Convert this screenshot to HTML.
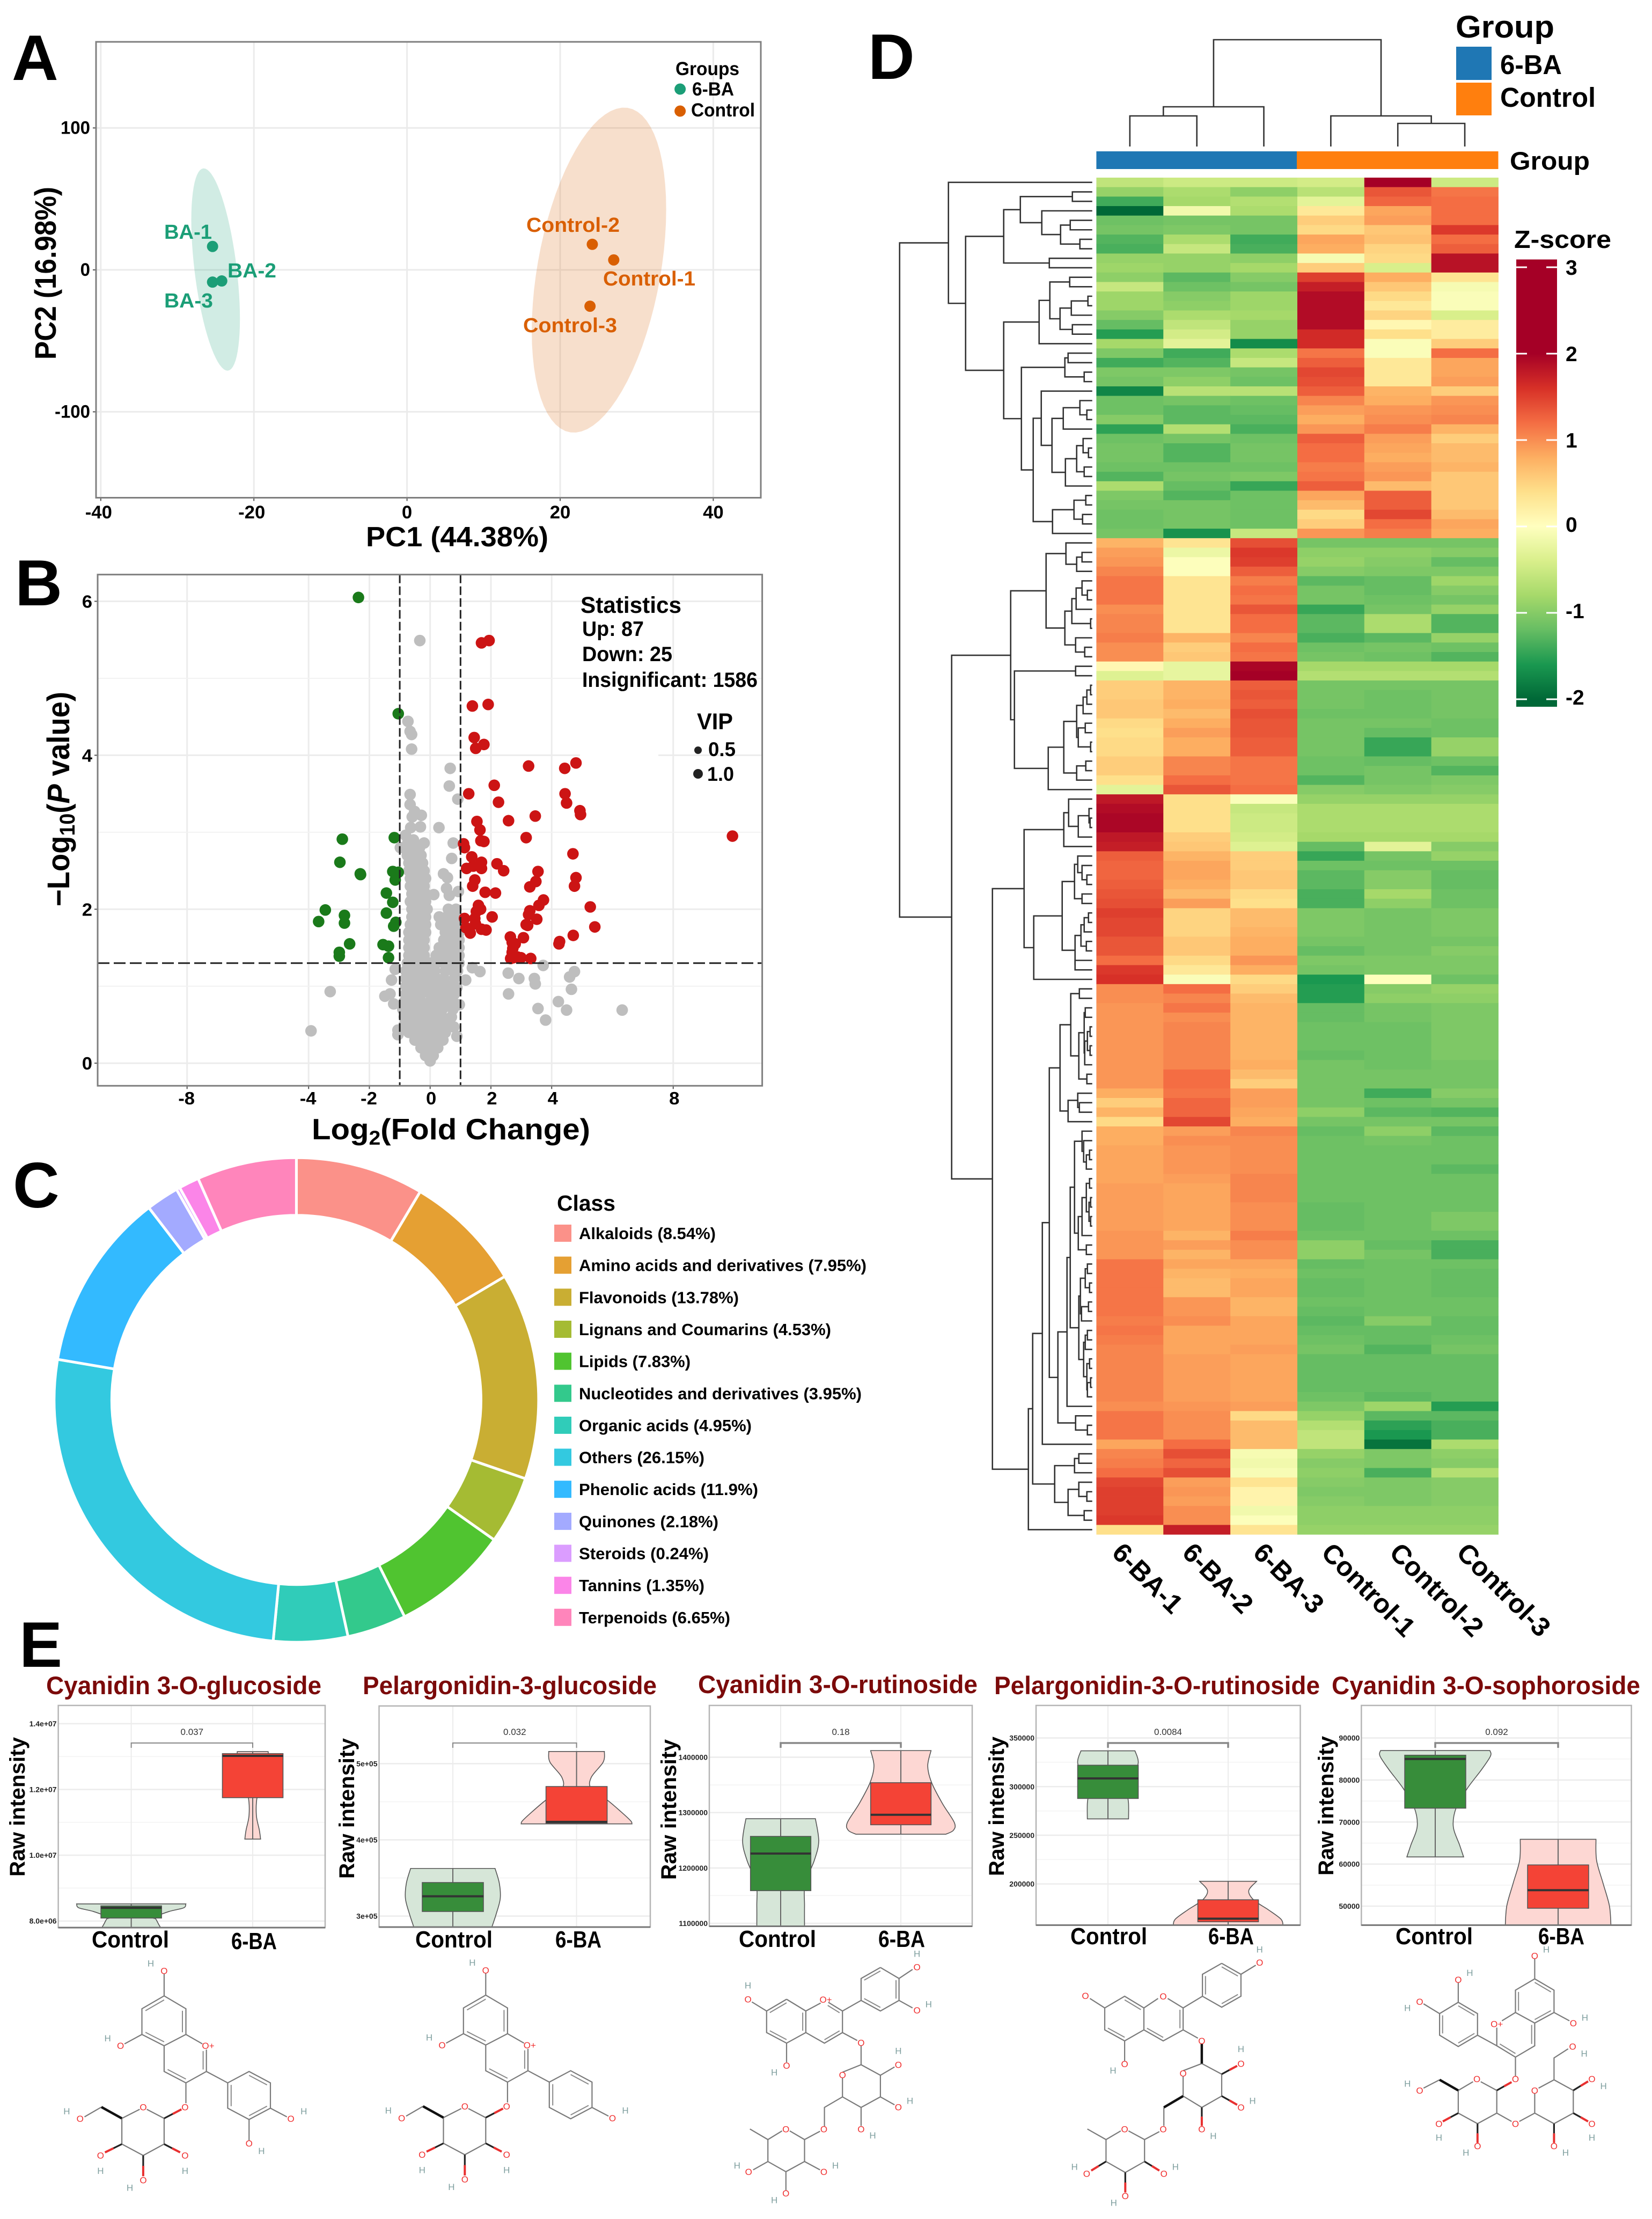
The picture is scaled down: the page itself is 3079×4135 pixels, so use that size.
<!DOCTYPE html>
<html lang="en">
<head>
<meta charset="utf-8">
<title>Metabolomics figure</title>
<style>
html,body{margin:0;padding:0;background:#fff;}
svg{display:block;}
text{font-family:"Liberation Sans",sans-serif;}
.b{font-weight:bold;fill:#000;}
</style>
</head>
<body>
<svg id="figure" xmlns="http://www.w3.org/2000/svg" width="3079" height="4135" viewBox="0 0 3079 4135">
<rect x="0" y="0" width="3079" height="4135" fill="#fff"/>

<g id="panelA"></g>
<g>
  <text class="b" x="22" y="149" font-size="120">A</text>
  <text class="b" x="682" y="1018" font-size="52" textLength="340" lengthAdjust="spacingAndGlyphs">PC1 (44.38%)</text>
  <text class="b" x="104" y="670" font-size="56" textLength="322" lengthAdjust="spacingAndGlyphs" transform="rotate(-90 104 670)">PC2 (16.98%)</text>
  <text class="b" x="1259" y="140" font-size="35" textLength="119" lengthAdjust="spacingAndGlyphs">Groups</text>
  <circle cx="1267.6" cy="166" r="10.5" fill="#1b9e77"/>
  <text class="b" x="1290" y="178" font-size="35" textLength="78" lengthAdjust="spacingAndGlyphs">6-BA</text>
  <circle cx="1267.6" cy="207" r="10.5" fill="#d95f02"/>
  <text class="b" x="1288" y="217" font-size="35" textLength="119" lengthAdjust="spacingAndGlyphs">Control</text>
  <g font-weight="bold" font-size="38">
    <text fill="#1b9e77" x="306" y="445" textLength="89" lengthAdjust="spacingAndGlyphs">BA-1</text>
    <text fill="#1b9e77" x="424" y="517" textLength="91" lengthAdjust="spacingAndGlyphs">BA-2</text>
    <text fill="#1b9e77" x="306" y="573" textLength="91" lengthAdjust="spacingAndGlyphs">BA-3</text>
    <text fill="#d95f02" x="981" y="432" textLength="174" lengthAdjust="spacingAndGlyphs">Control-2</text>
    <text fill="#d95f02" x="1124" y="532" textLength="172" lengthAdjust="spacingAndGlyphs">Control-1</text>
    <text fill="#d95f02" x="975" y="619" textLength="175" lengthAdjust="spacingAndGlyphs">Control-3</text>
  </g>
</g>

<g id="panelB"></g>
<g>
  <text class="b" x="28" y="1128" font-size="122">B</text>
  <text class="b" x="581" y="2123" font-size="55" textLength="519" lengthAdjust="spacingAndGlyphs">Log<tspan font-size="37" dy="10">2</tspan><tspan dy="-10">(Fold Change)</tspan></text>
  <text class="b" x="129" y="1689" font-size="58" textLength="400" lengthAdjust="spacingAndGlyphs" transform="rotate(-90 129 1689)">&#8722;Log<tspan font-size="40" dy="10">10</tspan><tspan dy="-10">(</tspan><tspan font-style="italic">P</tspan> value)</text>
  <text class="b" x="1082" y="1142" font-size="43" textLength="188" lengthAdjust="spacingAndGlyphs">Statistics</text>
  <text class="b" x="1085" y="1185" font-size="39" textLength="115" lengthAdjust="spacingAndGlyphs">Up: 87</text>
  <text class="b" x="1085" y="1232" font-size="39" textLength="168" lengthAdjust="spacingAndGlyphs">Down: 25</text>
  <text class="b" x="1085" y="1280" font-size="39" textLength="327" lengthAdjust="spacingAndGlyphs">Insignificant: 1586</text>
  <text class="b" x="1299" y="1359" font-size="43" textLength="67" lengthAdjust="spacingAndGlyphs">VIP</text>
  <circle cx="1301" cy="1398" r="7" fill="#222"/>
  <text class="b" x="1320" y="1409" font-size="37" textLength="51" lengthAdjust="spacingAndGlyphs">0.5</text>
  <circle cx="1301" cy="1442" r="9" fill="#222"/>
  <text class="b" x="1318" y="1455" font-size="37" textLength="50" lengthAdjust="spacingAndGlyphs">1.0</text>
</g>

<g id="panelC"></g>
<g>
  <text class="b" x="24" y="2250" font-size="120">C</text>
  <text class="b" x="1038" y="2256" font-size="41" textLength="109" lengthAdjust="spacingAndGlyphs">Class</text>
  <g font-weight="bold" font-size="31">
    <rect x="1033" y="2282" width="32" height="32" fill="#fb9189"/>
    <text x="1079" y="2309" textLength="255" lengthAdjust="spacingAndGlyphs">Alkaloids (8.54%)</text>
    <rect x="1033" y="2341.6" width="32" height="32" fill="#e5a033"/>
    <text x="1079" y="2368.6" textLength="536" lengthAdjust="spacingAndGlyphs">Amino acids and derivatives (7.95%)</text>
    <rect x="1033" y="2401.3" width="32" height="32" fill="#c9ae33"/>
    <text x="1079" y="2428.3" textLength="298" lengthAdjust="spacingAndGlyphs">Flavonoids (13.78%)</text>
    <rect x="1033" y="2461" width="32" height="32" fill="#a5bb33"/>
    <text x="1079" y="2488" textLength="470" lengthAdjust="spacingAndGlyphs">Lignans and Coumarins (4.53%)</text>
    <rect x="1033" y="2520.6" width="32" height="32" fill="#50c430"/>
    <text x="1079" y="2547.6" textLength="208" lengthAdjust="spacingAndGlyphs">Lipids (7.83%)</text>
    <rect x="1033" y="2580.3" width="32" height="32" fill="#33c98c"/>
    <text x="1079" y="2607.3" textLength="527" lengthAdjust="spacingAndGlyphs">Nucleotides and derivatives (3.95%)</text>
    <rect x="1033" y="2639.9" width="32" height="32" fill="#30ccb9"/>
    <text x="1079" y="2666.9" textLength="322" lengthAdjust="spacingAndGlyphs">Organic acids (4.95%)</text>
    <rect x="1033" y="2699.5" width="32" height="32" fill="#33c9e0"/>
    <text x="1079" y="2726.5" textLength="234" lengthAdjust="spacingAndGlyphs">Others (26.15%)</text>
    <rect x="1033" y="2759.2" width="32" height="32" fill="#33baff"/>
    <text x="1079" y="2786.2" textLength="334" lengthAdjust="spacingAndGlyphs">Phenolic acids (11.9%)</text>
    <rect x="1033" y="2818.9" width="32" height="32" fill="#a3aaff"/>
    <text x="1079" y="2845.9" textLength="260" lengthAdjust="spacingAndGlyphs">Quinones (2.18%)</text>
    <rect x="1033" y="2878.5" width="32" height="32" fill="#db9dff"/>
    <text x="1079" y="2905.5" textLength="242" lengthAdjust="spacingAndGlyphs">Steroids (0.24%)</text>
    <rect x="1033" y="2938.2" width="32" height="32" fill="#fb85e8"/>
    <text x="1079" y="2965.2" textLength="234" lengthAdjust="spacingAndGlyphs">Tannins (1.35%)</text>
    <rect x="1033" y="2997.8" width="32" height="32" fill="#ff85bb"/>
    <text x="1079" y="3024.8" textLength="282" lengthAdjust="spacingAndGlyphs">Terpenoids (6.65%)</text>
  </g>
</g>

<g id="panelD"></g>
<g>
  <text class="b" x="1618" y="147" font-size="120">D</text>
  <text class="b" x="2713" y="70" font-size="58" textLength="184" lengthAdjust="spacingAndGlyphs">Group</text>
  <rect x="2714" y="87" width="66" height="62" fill="#1f77b4"/>
  <rect x="2714" y="154" width="66" height="61" fill="#ff7f0e"/>
  <text class="b" x="2796" y="138" font-size="51" textLength="115" lengthAdjust="spacingAndGlyphs">6-BA</text>
  <text class="b" x="2796" y="199" font-size="51" textLength="178" lengthAdjust="spacingAndGlyphs">Control</text>
  <rect x="2043.4" y="282" width="374.5" height="33" fill="#1f77b4"/>
  <rect x="2417" y="282" width="375.5" height="33" fill="#ff7f0e"/>
  <text class="b" x="2814" y="316" font-size="47" textLength="149" lengthAdjust="spacingAndGlyphs">Group</text>
  <text class="b" x="2822" y="462" font-size="46" textLength="181" lengthAdjust="spacingAndGlyphs">Z-score</text>
  <g font-weight="bold" font-size="50">
    <text x="2070" y="2896" transform="rotate(45 2070 2896)">6-BA-1</text>
    <text x="2201" y="2896" transform="rotate(45 2201 2896)">6-BA-2</text>
    <text x="2333" y="2896" transform="rotate(45 2333 2896)">6-BA-3</text>
    <text x="2460" y="2896" transform="rotate(45 2460 2896)">Control-1</text>
    <text x="2587" y="2896" transform="rotate(45 2587 2896)">Control-2</text>
    <text x="2712" y="2896" transform="rotate(45 2712 2896)">Control-3</text>
  </g>
</g>

<g id="panelE"></g>
<g>
  <text class="b" x="36" y="3106" font-size="120">E</text>
  <g font-weight="bold" font-size="47" fill="#7b0a0a">
    <text x="86" y="3157" textLength="513" lengthAdjust="spacingAndGlyphs">Cyanidin 3-O-glucoside</text>
    <text x="676" y="3157" textLength="548" lengthAdjust="spacingAndGlyphs">Pelargonidin-3-glucoside</text>
    <text x="1301" y="3155" textLength="521" lengthAdjust="spacingAndGlyphs">Cyanidin 3-O-rutinoside</text>
    <text x="1853" y="3157" textLength="607" lengthAdjust="spacingAndGlyphs">Pelargonidin-3-O-rutinoside</text>
    <text x="2482" y="3157" textLength="575" lengthAdjust="spacingAndGlyphs">Cyanidin 3-O-sophoroside</text>
  </g>
  <g font-weight="bold" font-size="40">
    <text x="46" y="3497" textLength="260" lengthAdjust="spacingAndGlyphs" transform="rotate(-90 46 3497)">Raw intensity</text>
    <text x="660" y="3501" textLength="262" lengthAdjust="spacingAndGlyphs" transform="rotate(-90 660 3501)">Raw intensity</text>
    <text x="1260" y="3503" textLength="262" lengthAdjust="spacingAndGlyphs" transform="rotate(-90 1260 3503)">Raw intensity</text>
    <text x="1871" y="3496" textLength="260" lengthAdjust="spacingAndGlyphs" transform="rotate(-90 1871 3496)">Raw intensity</text>
    <text x="2485" y="3495" textLength="260" lengthAdjust="spacingAndGlyphs" transform="rotate(-90 2485 3495)">Raw intensity</text>
  </g>
  <g font-weight="bold" font-size="44">
    <text x="171" y="3629" textLength="144" lengthAdjust="spacingAndGlyphs">Control</text>
    <text x="431" y="3632" textLength="85" lengthAdjust="spacingAndGlyphs">6-BA</text>
    <text x="774" y="3629" textLength="144" lengthAdjust="spacingAndGlyphs">Control</text>
    <text x="1035" y="3629" textLength="86" lengthAdjust="spacingAndGlyphs">6-BA</text>
    <text x="1377" y="3628" textLength="144" lengthAdjust="spacingAndGlyphs">Control</text>
    <text x="1637" y="3628" textLength="87" lengthAdjust="spacingAndGlyphs">6-BA</text>
    <text x="1995" y="3623" textLength="143" lengthAdjust="spacingAndGlyphs">Control</text>
    <text x="2252" y="3623" textLength="85" lengthAdjust="spacingAndGlyphs">6-BA</text>
    <text x="2601" y="3623" textLength="144" lengthAdjust="spacingAndGlyphs">Control</text>
    <text x="2867" y="3623" textLength="86" lengthAdjust="spacingAndGlyphs">6-BA</text>
  </g>
</g>
</svg>

<script>
/* ---------- Panel A: PCA data ---------- */
const pcaXTicks=[-40,-20,0,20,40];
const pcaYTicks=[-100,0,100];
const pcaPc1=[-25.4,-24.2,-25.4,27,24.2,23.9];
const pcaPc2=[16.5,-7.8,-8.6,7,18,-25.6];
const pcaGroupOf=['6-BA','6-BA','6-BA','Control','Control','Control'];
const pcaEllipseGroup=['6-BA','Control'];
const pcaEllipseMeanX=[-25,25.07];
const pcaEllipseMeanY=[0.25,-0.15];
const pcaEllipseSdX=[3.175,8.78];
const pcaEllipseSdY=[71.25,114.5];
const pcaEllipseCorr=[-0.488,0.374];

/* ---------- Panel B: volcano data ---------- */
const volcanoXTicks=[-8,-4,-2,0,2,4,8];
const volcanoYTicks=[0,2,4,6];
const volcanoYMinor=[1,3,5];
const volcanoRed=[[1.94,5.49],[1.69,5.46],[1.39,4.64],[1.91,4.66],[1.45,4.23],[1.77,4.14],[1.5,4.09],[3.24,3.86],[4.43,3.83],[4.8,3.9],[2.11,3.61],[1.27,3.5],[4.44,3.5],[2.25,3.39],[4.49,3.38],[4.93,3.28],[4.95,3.23],[3.46,3.21],[2.58,3.15],[1.54,3.14],[1.64,3.03],[3.16,2.93],[9.95,2.95],[1.67,2.89],[1.77,2.88],[1.1,2.85],[1.13,2.8],[4.7,2.72],[1.37,2.68],[1.69,2.61],[1.42,2.56],[2.2,2.59],[1.2,2.53],[1.69,2.53],[2.42,2.5],[3.55,2.49],[1.47,2.38],[4.8,2.41],[3.48,2.36],[3.28,2.29],[4.75,2.3],[1.4,2.3],[1.81,2.22],[2.15,2.21],[3.73,2.12],[3.58,2.05],[5.27,2.03],[1.59,2.05],[1.66,2],[1.52,1.97],[3.28,1.98],[3.24,1.93],[2.04,1.9],[1.13,1.88],[1.47,1.88],[3.51,1.87],[1.49,1.81],[3.21,1.79],[3.16,1.8],[5.42,1.77],[1.18,1.76],[1.69,1.74],[1.84,1.73],[1.32,1.69],[4.71,1.66],[2.64,1.64],[3.07,1.63],[4.26,1.58],[4.24,1.55],[2.7,1.57],[2.8,1.55],[2.72,1.49],[2.7,1.44],[2.74,1.37],[2.65,1.36],[2.99,1.37],[3.31,1.36],[2.87,1.38]];
const volcanoGreen=[[-2.36,6.05],[-1.05,4.54],[-2.89,2.91],[-1.18,2.93],[-2.97,2.61],[-2.3,2.46],[-1.23,2.49],[-1.05,2.48],[-1.15,2.38],[-1.44,2.21],[-1.23,2.09],[-3.45,1.99],[-3.67,1.84],[-2.82,1.92],[-2.82,1.82],[-1.44,1.95],[-1.13,1.83],[-1.2,1.78],[-2.65,1.55],[-1.55,1.54],[-1.37,1.52],[-2.99,1.44],[-2.99,1.39],[-1.37,1.37],[-2.29,2.45]];
const volcanoGrayOutliers=[[-0.34,5.49],[-0.73,4.44],[-0.66,4.31],[-0.61,4.27],[-0.61,4.08],[0.66,3.83],[0.63,3.6],[-0.66,3.49],[-0.66,3.36],[0.91,3.43],[-0.51,3.27],[-0.29,3.22],[-0.59,3.2],[-0.64,3.06],[-0.32,3.07],[0.29,3.06],[-0.81,2.96],[-0.73,2.87],[-0.2,2.86],[0.76,2.86],[-0.98,2.8],[0.71,2.66],[0.44,2.46],[0.57,2.41],[0.54,2.27],[0.12,2.19],[0.63,2.18],[0.93,2.23],[1.39,1.24],[1.64,1.19],[2.57,1.17],[2.92,1.1],[3.43,1.1],[3.46,1.03],[3.72,1.27],[4.75,1.19],[4.59,1.12],[4.65,0.96],[2.58,0.9],[4.22,0.8],[3.55,0.71],[4.49,0.69],[3.8,0.56],[6.32,0.69],[-3.92,0.42],[-3.29,0.93],[1.17,1.08],[-1.49,0.87],[-1.32,0.9],[-1.2,0.77],[-1.06,0.43],[-1.06,0.37],[0.78,0.47],[0.88,0.35],[0.96,0.76],[0.88,0.98],[-1.27,1.08],[-1.15,1.22]];
const volcanoGrayRowY=[0.03,0.1,0.2,0.3,0.4,0.5,0.6,0.7,0.8,0.9,1,1.1,1.2,1.3,1.4,1.5,1.6,1.7,1.8,1.9,2,2.1,2.2,2.3,2.4,2.5,2.6,2.7,2.8,2.9];
const volcanoGrayRowX=[[0],[-.15,.1],[-.3,-.1,.1,.25],[-.5,-.3,-.1,.1,.3,.42],[-.7,-.45,-.2,0,.2,.4,.5],[-.85,-.55,-.3,-.05,.2,.4,.6],[-.85,-.6,-.35,-.1,.15,.4,.7],[-.9,-.6,-.35,-.1,.15,.4,.75],[-.85,-.6,-.3,0,.3,.55,.75],[-.8,-.55,-.3,0,.25,.5,.8],[-.8,-.55,-.3,-.05,.2,.45,.7],[-.8,-.55,-.3,-.05,.2,.45,.8],[-.8,-.55,-.3,-.05,.15,.5,.75,.9],[-.75,-.5,-.25,0,.2,.45,.7,.95],[-.7,-.45,-.2,.2,.4,.65,.95],[-.7,-.45,-.2,.3,.5,.75,.95],[-.7,-.45,-.2,.45,.7,.95],[-.7,-.45,-.15,.5,.75,.95],[-.65,-.4,-.15,.35,.6,.85],[-.6,-.35,-.15,.3,.55,.85],[-.6,-.35,-.1,.6,.85],[-.65,-.4,-.15],[-.6,-.35,-.15],[-.65,-.4,-.2],[-.65,-.4,-.15],[-.7,-.45,-.2],[-.7,-.45,-.25],[-.75,-.5,-.3],[-.75,-.5,-.35],[-.7,-.55]];
const volcanoFcCut=[-1,1];
const volcanoPCut=1.3;

/* ---------- Panel C: donut data ---------- */
const donutClasses=['alkaloids','amino-acids','flavonoids','lignans','lipids','nucleotides','organic-acids','others','phenolic-acids','quinones','steroids','tannins','terpenoids'];
const donutValues=[8.54,7.95,13.78,4.53,7.83,3.95,4.95,26.15,11.9,2.18,0.24,1.35,6.65];
const donutColors=['#fb9189','#e5a033','#c9ae33','#a5bb33','#50c430','#33c98c','#30ccb9','#33c9e0','#33baff','#a3aaff','#db9dff','#fb85e8','#ff85bb'];

/* ---------- Panel D: heatmap data (z-scores; columns 6-BA-1..3, Control-1..3) ---------- */
const heatColumns=['6-BA-1','6-BA-2','6-BA-3','Control-1','Control-2','Control-3'];
const heatColorbarTicks=[3,2,1,0,-1,-2];
const heatRows=[
[-.6,-.5,-.5,-.45,2.3,-.5],[-.9,-.75,-.95,-.65,1.35,1.15],[-1.4,-.8,-.7,-.3,1.25,1.2],[-2,-.15,-.75,.3,.85,1.2],[-1.15,-1.1,-1.1,.55,.9,1.2],[-1.1,-1.05,-1.1,.45,.6,1.55],[-1.3,-.75,-1.4,.85,.65,1.2],[-1.35,-.55,-1.35,.8,.5,1.3],[-.9,-.9,-.95,-.1,.45,1.85],[-.85,-.9,-.8,.55,-.4,1.85],
[-.95,-1.25,-1,1.5,.8,.35],[-.55,-1.15,-1.1,1.75,.6,-.1],[-.85,-1,-.85,1.9,.45,-.05],[-.85,-.95,-.85,1.9,.3,-.05],[-1,-.75,-.8,1.9,.5,-.4],[-1.2,-.6,-.9,1.9,.1,.25],[-1.55,-.45,-.9,1.65,.4,.25],[-.8,-.3,-1.7,1.65,-.05,.55],[-1.05,-1.4,-.75,1.15,-.05,1.2],[-1.4,-1.3,-.55,1.3,.3,.85],
[-1.05,-1.05,-1.1,1.45,.3,.85],[-1.1,-.95,-1.15,1.4,.3,.9],[-1.75,-.65,-.65,1.3,.75,.55],[-1.15,-1.1,-1.15,1.05,.8,.95],[-1.15,-1.25,-1.2,.9,.95,1],[-1,-1.25,-1.25,.8,1,1.05],[-1.5,-.7,-1.35,.95,1.1,.75],[-1.15,-1.1,-1.15,1.3,.9,.55],[-1.1,-1.3,-1.1,1.2,.85,.7],[-1.1,-1.3,-1.1,1.2,.8,.7],
[-1.15,-1.15,-1.15,1.1,.9,.75],[-1.3,-1.1,-1.05,1.15,.95,.6],[-.75,-1.2,-1.45,1.3,.7,.6],[-1.05,-1.3,-1.15,.85,1.3,.6],[-1.1,-1.1,-1.15,.7,1.3,.6],[-1.15,-1.1,-1.15,.45,1.45,.7],[-1.15,-1.1,-1.15,.55,1.2,.85],[-1.1,-1.65,-.55,.95,1.1,.8],[.75,.35,1.4,-1.1,-1.1,-1.1],[.9,-.2,1.55,-.95,-.95,-1],
[.95,-.02,1.5,-.9,-1,-1.2],[1.05,-.02,1.3,-1,-1.05,-1.05],[1.15,.35,1.1,-1.25,-1.2,-.85],[1.15,.35,1.2,-1.1,-1.2,-1],[1.15,.35,1.15,-1.1,-1.15,-1.1],[1,.35,1.35,-1.45,-1.1,-.9],[1.05,.35,1.2,-1.25,-.75,-1.3],[1.05,.35,1.2,-1.25,-.75,-1.3],[1.1,.75,1.05,-1.35,-1.25,-.9],[1,.55,1.2,-1.15,-1.1,-1.15],
[1,.6,1.15,-1.1,-1.15,-1.3],[.1,-.25,1.95,-.8,-.8,-.8],[-.35,-.25,2.2,-.7,-.7,-.7],[.55,.75,1.3,-1.1,-1.1,-1.1],[.55,.75,1.35,-1.1,-1.15,-1.1],[.6,.8,1.3,-1.1,-1.15,-1.1],[.6,.7,1.4,-1.15,-1.15,-1.1],[.45,.8,1.35,-1.1,-1.1,-1.15],[.4,.9,1.35,-1.1,-1.2,-1.15],[.45,.8,1.3,-1.1,-1.45,-.9],
[.45,.8,1.3,-1.1,-1.45,-.9],[.55,1.05,1.15,-1.15,-1.2,-1.15],[.55,1.05,1.15,-1.15,-1.1,-1.3],[.4,1.2,1.15,-1.3,-1.1,-1.05],[-.3,1.35,1.2,-1,-1.05,-1],[1.8,.4,-.05,-.9,-.9,-.9],[1.9,.4,-.55,-.75,-.75,-.75],[1.95,.4,-.5,-.75,-.75,-.75],[1.95,.4,-.5,-.75,-.75,-.75],[1.8,.55,-.45,-.8,-.8,-.8],
[1.75,.6,-.35,-1.2,-.3,-1],[1.3,.75,.55,-1.45,-1.1,-.9],[1.25,.85,.55,-1.15,-1.15,-1.15],[1.25,.85,.6,-1.25,-1,-1.2],[1.3,.8,.6,-1.25,-1,-1.2],[1.35,.7,.45,-1.35,-.8,-1.15],[1.4,.9,.4,-1.35,-.95,-1.15],[1.5,.5,.7,-1.05,-1.1,-1.05],[1.45,.5,.7,-1.05,-1.1,-1.05],[1.45,.5,.75,-1.05,-1.1,-1.05],
[1.35,.6,.8,-1.1,-1.1,-1.1],[1.35,.6,.8,-1.2,-1.1,-1],[1.2,.45,.95,-1.05,-1.05,-1.05],[1.55,.3,.8,-1.1,-1.05,-1.05],[1.6,-.05,.45,-1.6,-.02,-1.15],[1,1.2,.55,-1.55,-1,-.9],[1,1.05,.7,-1.55,-.95,-.95],[.95,1.15,.75,-1.2,-1.1,-1.05],[.95,1,.75,-1.2,-1.1,-1.05],[.95,1.05,.75,-1.15,-1.15,-1.05],
[.95,1.05,.75,-1.15,-1.15,-1.05],[.95,1.05,.75,-1.15,-1.15,-1.05],[.95,1.05,.75,-1.2,-1.15,-1.05],[.95,1.05,.8,-1.1,-1.15,-1.1],[.95,1.2,.7,-1.1,-1.1,-1.1],[.95,1.2,.55,-1.1,-1.1,-1.1],[.8,1.15,.9,-1.1,-1.4,-1],[.55,1.25,.9,-1.1,-1.15,-1.1],[.75,1.25,.85,-.95,-1.25,-1.3],[.45,1.45,.8,-1.1,-1.1,-1.1],
[.8,.9,1.05,-1.2,-.95,-1.25],[.8,1,1,-1.15,-1.1,-1.15],[.85,.95,1,-1.15,-1.15,-1.15],[.85,.95,1,-1.15,-1.15,-1.15],[.85,.95,1,-1.15,-1.15,-1.25],[.85,.9,1.05,-1.15,-1.15,-1.15],[.9,.85,1.05,-1.15,-1.15,-1.15],[.9,.85,1.05,-1.15,-1.15,-1.15],[.9,.85,1,-1.2,-1.15,-1.15],[.9,.85,1,-1.2,-1.15,-1.05],
[.9,.85,1,-1.2,-1.15,-1.05],[.95,.75,1.1,-1.15,-1.15,-1.15],[.95,.9,1,-.95,-1.2,-1.35],[.95,.75,1,-.95,-1.1,-1.35],[1.15,.85,.85,-1.2,-1.15,-1.15],[1.15,.75,.8,-1.15,-1.15,-1.2],[1.15,.7,.85,-1.2,-1.15,-1.2],[1.15,.7,.85,-1.2,-1.15,-1.2],[1.15,.95,.75,-1.15,-1.15,-1.15],[1.15,.95,.75,-1.2,-1.15,-1.15],
[1.1,1,.85,-1.25,-1,-1.2],[1.15,.85,.85,-1.2,-1.2,-1.2],[1.1,.85,.85,-1.15,-1.2,-1.15],[1.05,.85,.9,-1.1,-1.3,-1.1],[1.05,.9,.85,-1.2,-1.2,-1.2],[1.05,.9,.85,-1.2,-1.2,-1.2],[1.05,.9,.85,-1.2,-1.2,-1.2],[1.05,.9,.85,-1.2,-1.2,-1.2],[1.05,.9,.85,-1.15,-1.25,-1.2],[1,.95,.9,-1.05,-.85,-1.55],
[1.15,1,.45,-.9,-1.25,-1.25],[1.15,1,.7,-.7,-1.5,-1.35],[1.15,1,.7,-.6,-1.6,-1.35],[.85,1.2,.7,-.6,-1.9,-.75],[1.05,1.4,-.1,-.9,-1.05,-.95],[1.1,1.25,-.15,-1,-1.05,-1],[1.2,1.4,-.08,-.95,-1.35,-.7],[1.45,.9,.35,-1,-1.05,-1],[1.5,.95,.15,-1.05,-1.05,-1],[1.5,.9,.15,-1,-1.05,-1],
[1.5,1,-.15,-.95,-.95,-.95],[1.55,1,-.03,-.95,-.95,-.95],[.4,1.75,.35,-.9,-.9,-.9]
];
/* colour scale: z-break -> colour */
const heatBreaks=[-2,-1.6,-1.2,-.8,-.4,0,.4,.8,1.2,1.6,2];
const heatStops=['#006837','#1a9850','#66bd63','#a6d96a','#d9ef8b','#ffffbf','#fee08b','#fdae61','#f46d43','#d73027','#a50026'];

/* dendrograms: [leftChild, rightChild, mergeDistance]; integers are leaf indices */
const colTree=[[[0,1,.57],2,.74],[3,[4,5,.43],.57],1.99];
const tC1=[[1,2,.37],[3,[[4,5,.41],[6,7,.23],.59],.94],1.34];
const tC=[tC1,[8,9,.80],1.65];
const tD1=[[[10,11,.42],[[[12,13,.08],14,.39],[15,16,.37],.60],.79],17,.99];
const tD2b=[[22,[[[23,[24,25,.10],.23],26,.54],[[[27,[28,29,.07],.17],[30,31,.15],.29],32,.50],.75],.95],[[[33,34,.12],[35,36,.18],.34],37,.74],1.10];
const tD2=[[[18,19,.45],[20,21,.15],.51],tD2b,1.32];
const tD=[tD1,tD2,1.65];
const tB=[tC,tD,2.36];
const tA=[0,tB,2.68];
const tF1=[[38,[[39,40,.19],41,.29],.49],[[[[42,[43,44,.09],.19],45,.30],[46,47,.03],.38],[48,[49,50,.14],.31],.51],.86];
const tJ1a=[[[[53,54,.03],55,.10],56,.17],[[57,58,.13],[59,60,.03],.26],.29];
const tJ=[[tJ1a,[[61,62,.12],63,.29],.53],64,.82];
const tF2=[[51,52,.31],tJ,1.45];
const tF=[tF1,tF2,1.52];
const tK1=[[65,[[66,[67,68,.04],.06],69,.26],.44],70,.53];
const tK2=[[[[71,[72,[73,74,.10],.19],.27],[75,76,.19],.33],[[[[77,78,.07],79,.15],[80,81,.11],.21],[82,83,.32],.32],.56],84,1.09];
const tK=[tK1,tK2,1.27];
const tL3=[[[134,135,.25],136,.33],[[137,[138,139,.10],.25],[140,141,.15],.45],.70];
const tP1=[[100,[101,[[102,103,.05],104,.11],.16],.19],[[[[105,106,.05],[[107,108,.03],[109,110,.03],.06],.11],111,.19],[112,113,.11],.26],.33];
const tP2=[[[[114,115,.09],[116,117,.05],.13],[[118,119,.07],120,.20],.22],[[[121,122,.09],123,.13],[[124,125,.05],[[126,127,.03],128,.09],.10],.16],.25];
const tN=[[[tP1,tP2,.41],129,.47],[130,[131,132,.09],.31],.64];
const tM2=[[96,[97,98,.24],.27],99,.45];
const tS=[[87,88,.13],[[[89,90,.04],[91,92,.04],.09],93,.14],.15];
const tM1=[[85,86,.24],[tS,[94,95,.10],.25],.40];
const tM=[tM1,tM2,.60];
const tL=[[[[tM,tN,.80],133,.93],tL3,1.11],142,1.19];
const tG=[tK,tL,1.86];
const tE=[tF,tG,2.62];
const rowTree=[tA,tE,3.59];

/* ---------- Panel E: violin / box data (units shown per plot) ---------- */
const e1Ticks=[8,10,12,14];
const e1TickLabels=['8.0e+06','1.0e+07','1.2e+07','1.4e+07'];
const e1P='0.037';
const e1CtrlVal=[8.52,8.4,8.29,8.11,8.06,7.89,7.8];
const e1CtrlDen=[1.8,1.73,1.25,.74,.81,.91,.97];
const e1CtrlBox=[8.09,8.4,8.46];
const e1TrtVal=[13.15,12.83,12.37,11.79,11.22,10.76,10.49];
const e1TrtDen=[.51,.51,.37,.15,.12,.22,.26];
const e1TrtBox=[11.75,13.02,13.09];

const e2Ticks=[3,4,5];
const e2TickLabels=['3e+05','4e+05','5e+05'];
const e2P='0.032';
const e2CtrlVal=[3.625,3.43,3.23,3.03,2.86];
const e2CtrlDen=[1.38,1.52,1.55,1.42,1.28];
const e2CtrlBox=[3.06,3.26,3.44];
const e2TrtVal=[5.16,5.02,4.82,4.67,4.52,4.37,4.25,4.21];
const e2TrtDen=[.91,.87,.48,.48,1.01,1.45,1.77,1.81];
const e2TrtBox=[4.216,4.236,4.7];

const e3Ticks=[11,12,13,14];
const e3TickLabels=['1100000','1200000','1300000','1400000'];
const e3P='0.18';
const e3CtrlVal=[12.89,12.48,12.13,11.72,11.31,10.95];
const e3CtrlDen=[1.15,1.26,1.11,.81,.79,.79];
const e3CtrlBox=[11.59,12.26,12.57];
const e3TrtVal=[14.12,13.84,13.54,13.16,12.82,12.68,12.61];
const e3TrtDen=[1,.89,1.02,1.38,1.77,1.74,1.49];
const e3TrtBox=[12.78,12.96,13.54];

const e4Ticks=[20,25,30,35];
const e4TickLabels=['200000','250000','300000','350000'];
const e4P='0.0084';
const e4CtrlVal=[33.68,32.51,30.96,29.79,28.24,26.68];
const e4CtrlDen=[.89,1,.85,.64,.68,.68];
const e4CtrlBox=[28.78,30.84,32.2];
const e4TrtVal=[20.27,19.3,18.33,17.36,16.39,15.77];
const e4TrtDen=[.94,.68,.85,1.32,1.74,1.81];
const e4TrtBox=[16.11,16.43,18.37];

const e5Ticks=[5,6,7,8,9];
const e5TickLabels=['50000','60000','70000','80000','90000'];
const e5P='0.092';
const e5CtrlVal=[8.7,8.57,8.25,7.8,7.35,6.9,6.45,6.17];
const e5CtrlDen=[1.79,1.81,1.52,1.05,.69,.59,.8,.93];
const e5CtrlBox=[7.33,8.5,8.59];
const e5TrtVal=[6.59,6.09,5.55,5.01,4.55];
const e5TrtDen=[1.24,1.26,1.47,1.68,1.73];
const e5TrtBox=[4.95,5.38,5.98];

/* ---------- helpers ---------- */
const NS='http://www.w3.org/2000/svg';
function add(parent,tag,attrs,name){
  const el=document.createElementNS(NS,tag);
  for(const k in attrs) el.setAttribute(k,attrs[k]);
  
  
  parent.appendChild(el);
  return el;
}
function label(parent,str,x,y,size,name,o){
  o=o||{};
  const el=add(parent,'text',{x:x,y:y,'font-size':size,'font-weight':o.weight||'bold','text-anchor':o.anchor||'start',fill:o.fill||'#000'},name);
  el.textContent=str;
  if(o.stretch){
    const w=el.getComputedTextLength();
    el.setAttribute('textLength',w*o.stretch);
    el.setAttribute('lengthAdjust','spacingAndGlyphs');
  }
  return el;
}
function smooth(pts){
  let d='';
  for(let i=0;i<pts.length-1;i++){
    const p0=pts[Math.max(i-1,0)],p1=pts[i],p2=pts[i+1],p3=pts[Math.min(i+2,pts.length-1)];
    d+=' C'+(p1[0]+(p2[0]-p0[0])/6)+' '+(p1[1]+(p2[1]-p0[1])/6)+' '+(p2[0]-(p3[0]-p1[0])/6)+' '+(p2[1]-(p3[1]-p1[1])/6)+' '+p2[0]+' '+p2[1];
  }
  return d;
}

/* ---------- Panel A ---------- */
(function(){
  const g=document.getElementById('panelA');
  const L=179,R=1418,T=78,B=927.5;
  const X=v=>758.6+v*14.27, Y=v=>502.9-v*2.645;
  pcaXTicks.forEach(t=>{
    add(g,'line',{x1:X(t),x2:X(t),y1:T,y2:B,stroke:'#ebebeb','stroke-width':3},'pca-x-gridline');
    add(g,'line',{x1:X(t),x2:X(t),y1:B,y2:B+6,stroke:'#555','stroke-width':2},'pca-x-tick');
    label(g,String(t),X(t)-(t<0?4:0),966,34,'pca-x-tick-label',{anchor:'middle',stretch:1.02});
  });
  pcaYTicks.forEach(t=>{
    add(g,'line',{x1:L,x2:R,y1:Y(t),y2:Y(t),stroke:'#ebebeb','stroke-width':3},'pca-y-gridline');
    add(g,'line',{x1:L-6,x2:L,y1:Y(t),y2:Y(t),stroke:'#555','stroke-width':2},'pca-y-tick');
    label(g,String(t),168,Y(t)+11,34,'pca-y-tick-label',{anchor:'end',stretch:.97});
  });
  pcaEllipseGroup.forEach((grp,i)=>{
    const d=Math.acos(pcaEllipseCorr[i]);let p='';
    for(let a=0;a<360;a+=5){
      const t=a*Math.PI/180;
      const vx=pcaEllipseMeanX[i]+pcaEllipseSdX[i]*Math.cos(t);
      const vy=pcaEllipseMeanY[i]+pcaEllipseSdY[i]*Math.cos(t-d);
      p+=(a?'L':'M')+X(vx).toFixed(1)+' '+Y(vy).toFixed(1);
    }
    add(g,'path',{d:p+'Z',fill:grp==='Control'?'#d95f02':'#1b9e77','fill-opacity':.2},'pca-ellipse-'+grp.toLowerCase());
  });
  pcaPc1.forEach((v,i)=>{
    add(g,'circle',{cx:X(v),cy:Y(pcaPc2[i]),r:10.5,fill:pcaGroupOf[i]==='Control'?'#d95f02':'#1b9e77'},'pca-point');
  });
  add(g,'rect',{x:L,y:T,width:R-L,height:B-T,fill:'none',stroke:'#7f7f7f','stroke-width':3},'pca-plot-frame');
})();

/* ---------- Panel B ---------- */
(function(){
  const g=document.getElementById('panelB');
  const L=182,R=1420.6,T=1070.7,B=2023.3;
  const X=v=>801.7+v*56.63, Y=v=>1981.2-v*143.45;
  volcanoXTicks.forEach(t=>{
    add(g,'line',{x1:X(t),x2:X(t),y1:T,y2:B,stroke:'#ececec','stroke-width':3},'volcano-x-gridline');
    add(g,'line',{x1:X(t),x2:X(t),y1:B,y2:B+6,stroke:'#555','stroke-width':2},'volcano-x-tick');
    label(g,String(t),X(t)+(t<0?-1:2),2058,33,'volcano-x-tick-label',{anchor:'middle',stretch:1.05});
  });
  volcanoYTicks.forEach(t=>{
    add(g,'line',{x1:L,x2:R,y1:Y(t),y2:Y(t),stroke:'#ececec','stroke-width':3},'volcano-y-gridline');
    add(g,'line',{x1:L-6,x2:L,y1:Y(t),y2:Y(t),stroke:'#555','stroke-width':2},'volcano-y-tick');
    label(g,String(t),172,Y(t)+12,33,'volcano-y-tick-label',{anchor:'end',stretch:1.05});
  });
  volcanoYMinor.forEach(t=>{
    add(g,'line',{x1:L,x2:R,y1:Y(t),y2:Y(t),stroke:'#f2f2f2','stroke-width':2},'volcano-y-minor-gridline');
  });
  add(g,'rect',{x:1081,y:1398,width:146,height:18,fill:'#fff'},'volcano-legend-background');
  const dot=(p,fill,name)=>add(g,'circle',{cx:X(p[0]),cy:Y(p[1]),r:10.8,fill:fill},name);
  volcanoGrayRowY.forEach((y,i)=>volcanoGrayRowX[i].forEach(x=>dot([x,y],'#bebebe','volcano-point-insignificant')));
  volcanoGrayOutliers.forEach(p=>dot(p,'#bebebe','volcano-point-insignificant'));
  volcanoGreen.forEach(p=>dot(p,'#1a7a1a','volcano-point-down'));
  volcanoRed.forEach(p=>dot(p,'#cc1414','volcano-point-up'));
  volcanoFcCut.forEach(c=>{
    add(g,'line',{x1:X(c),x2:X(c),y1:T,y2:B,stroke:'#222','stroke-width':3,'stroke-dasharray':'16 6'},'volcano-fold-change-threshold');
  });
  add(g,'line',{x1:L,x2:R,y1:Y(volcanoPCut),y2:Y(volcanoPCut),stroke:'#222','stroke-width':3,'stroke-dasharray':'22 8'},'volcano-p-threshold');
  add(g,'rect',{x:L,y:T,width:R-L,height:B-T,fill:'none',stroke:'#7f7f7f','stroke-width':3},'volcano-plot-frame');
})();

/* ---------- Panel C ---------- */
(function(){
  const g=document.getElementById('panelC');
  const cx=552.4,cy=2608.7,Ro=451.5,Ri=344;
  const total=donutValues.reduce((a,b)=>a+b,0);
  let acc=0;
  donutValues.forEach((v,i)=>{
    const a0=acc/total*2*Math.PI;acc+=v;const a1=acc/total*2*Math.PI;
    const P=(r,a)=>[(cx+r*Math.sin(a)).toFixed(2),(cy-r*Math.cos(a)).toFixed(2)];
    const big=(a1-a0)>Math.PI?1:0;
    const [x0,y0]=P(Ro,a0),[x1,y1]=P(Ro,a1),[x2,y2]=P(Ri,a1),[x3,y3]=P(Ri,a0);
    add(g,'path',{d:`M${x0} ${y0}A${Ro} ${Ro} 0 ${big} 1 ${x1} ${y1}L${x2} ${y2}A${Ri} ${Ri} 0 ${big} 0 ${x3} ${y3}Z`,fill:donutColors[i],stroke:'#fff','stroke-width':5},'donut-slice-'+donutClasses[i]);
  });
})();

/* ---------- Panel D ---------- */
function hex2rgb(h){return [1,3,5].map(i=>parseInt(h.substr(i,2),16));}
function heatColor(z){
  const n=heatBreaks.length;
  if(z<=heatBreaks[0]) return heatStops[0];
  if(z>=heatBreaks[n-1]) return heatStops[n-1];
  for(let i=0;i<n-1;i++){
    if(z<=heatBreaks[i+1]){
      const t=(z-heatBreaks[i])/(heatBreaks[i+1]-heatBreaks[i]);
      const a=hex2rgb(heatStops[i]),b=hex2rgb(heatStops[i+1]);
      return 'rgb('+a.map((c,k)=>Math.round(c+(b[k]-c)*t)).join(',')+')';
    }
  }
}
(function(){
  const g=document.getElementById('panelD');
  const L=2043.4,R=2792.5,T=331,B=2859.3;
  const cw=(R-L)/heatColumns.length,rh=(B-T)/heatRows.length;
  heatRows.forEach((row,r)=>row.forEach((z,c)=>{
    add(g,'rect',{x:(L+c*cw).toFixed(2),y:(T+r*rh).toFixed(2),width:(cw+.4).toFixed(2),height:(rh+.4).toFixed(2),fill:heatColor(z)},'heatmap-cell');
  }));
  /* row dendrogram */
  const rowX=h=>2035.7-h*100, rowY=i=>T+(i+.5)*rh;
  function drawRow(n){
    if(typeof n==='number') return {x:rowX(0),y:rowY(n)};
    const a=drawRow(n[0]),b=drawRow(n[1]),x=rowX(n[2]);
    add(g,'path',{d:`M${a.x} ${a.y}H${x}V${b.y}H${b.x}`,fill:'none',stroke:'#333','stroke-width':2.6},'row-dendrogram-branch');
    return {x:x,y:(a.y+b.y)/2};
  }
  drawRow(rowTree);
  /* column dendrogram */
  const colX=i=>L+(i+.5)*cw, colY=h=>273-h*100;
  function drawCol(n){
    if(typeof n==='number') return {x:colX(n),y:colY(0)};
    const a=drawCol(n[0]),b=drawCol(n[1]),y=colY(n[2]);
    add(g,'path',{d:`M${a.x} ${a.y}V${y}H${b.x}V${b.y}`,fill:'none',stroke:'#333','stroke-width':2.6},'column-dendrogram-branch');
    return {x:(a.x+b.x)/2,y:y};
  }
  drawCol(colTree);
  /* colour bar */
  const barX=2826,barW=76,barTop=483.5,barBot=1317;
  const zY=z=>981-z*161;
  const defs=add(g,'defs',{},'colorbar-defs');
  const grad=add(defs,'linearGradient',{id:'zgrad',x1:0,y1:0,x2:0,y2:1},'colorbar-gradient');
  add(grad,'stop',{offset:0,'stop-color':heatStops[heatStops.length-1]},'colorbar-stop');
  heatBreaks.slice().reverse().forEach((z,i)=>{
    add(grad,'stop',{offset:(zY(z)-barTop)/(barBot-barTop),'stop-color':heatStops[heatStops.length-1-i]},'colorbar-stop');
  });
  add(g,'rect',{x:barX,y:barTop,width:barW,height:barBot-barTop,fill:'url(#zgrad)'},'colorbar');
  heatColorbarTicks.forEach(t=>{
    add(g,'line',{x1:barX,x2:barX+20,y1:zY(t),y2:zY(t),stroke:'#fff','stroke-width':3},'colorbar-tick-left');
    add(g,'line',{x1:barX+56,x2:barX+barW,y1:zY(t),y2:zY(t),stroke:'#fff','stroke-width':3},'colorbar-tick-right');
    label(g,String(t),2918,zY(t)+(t>0?14:10),39,'colorbar-tick-label');
  });
})();

/* ---------- Panel E ---------- */
function exprPlot(cfg){
  const g=add(document.getElementById('panelE'),'g',{},cfg.name);
  const {L,R,T,B,cx0,cx1,tick0,tick1,half}=cfg;
  const t0=cfg.ticks[0],t1=cfg.ticks[cfg.ticks.length-1];
  const Y=v=>tick0+(v-t0)*(tick1-tick0)/(t1-t0);
  const clipId='clip-'+cfg.name;
  const cp=add(g,'clipPath',{id:clipId},'plot-clip');
  add(cp,'rect',{x:L,y:T,width:R-L,height:B-T},'plot-clip-rect');
  cfg.ticks.forEach((t,i)=>{
    add(g,'line',{x1:L,x2:R,y1:Y(t),y2:Y(t),stroke:'#ececec','stroke-width':2.5},'major-gridline');
    if(i<cfg.ticks.length-1){
      const m=(t+cfg.ticks[i+1])/2;
      add(g,'line',{x1:L,x2:R,y1:Y(m),y2:Y(m),stroke:'#f3f3f3','stroke-width':1.5},'minor-gridline');
    }
    label(g,cfg.tickLabels[i],L-3,Y(t)+5,14,'y-tick-label',{anchor:'end',fill:'#222'});
  });
  [cx0,cx1].forEach(x=>{
    add(g,'line',{x1:x,x2:x,y1:T,y2:B,stroke:'#ececec','stroke-width':2},'x-gridline');
  });
  const clip=add(g,'g',{'clip-path':'url(#'+clipId+')'},'plot-marks');
  const violin=(cx,vals,dens,fill,name)=>{
    const lft=vals.map((v,i)=>[cx-dens[i]*half,Y(v)]);
    const rgt=vals.map((v,i)=>[cx+dens[i]*half,Y(v)]).reverse();
    const d='M'+lft[0][0]+' '+lft[0][1]+smooth(lft)+'L'+rgt[0][0]+' '+rgt[0][1]+smooth(rgt)+'Z';
    add(clip,'path',{d:d,fill:fill,stroke:'#555','stroke-width':1.6},name);
    add(clip,'line',{x1:cx,x2:cx,y1:Y(vals[0]),y2:Y(vals[vals.length-1]),stroke:'#666','stroke-width':2},name+'-whisker');
  };
  const box=(cx,b,fill,name)=>{
    add(clip,'rect',{x:cx-half,y:Y(b[2]),width:2*half,height:Y(b[0])-Y(b[2]),fill:fill,stroke:'#555','stroke-width':1.6},name);
    add(clip,'line',{x1:cx-half,x2:cx+half,y1:Y(b[1]),y2:Y(b[1]),stroke:'#333','stroke-width':4},name+'-median');
  };
  violin(cx0,cfg.cVal,cfg.cDen,'#d6e6d8','violin-control');
  violin(cx1,cfg.tVal,cfg.tDen,'#fdd7d3','violin-6ba');
  box(cx0,cfg.cBox,'#378d3a','box-control');
  box(cx1,cfg.tBox,'#f44336','box-6ba');
  add(g,'path',{d:`M${cx0} 3257V3248H${cx1}V3257`,fill:'none',stroke:'#888','stroke-width':cfg.bracketW||2},'significance-bracket');
  label(g,cfg.p,(cx0+cx1)/2,3233,17,'p-value-label',{anchor:'middle',weight:'normal',fill:'#333'});
  add(g,'rect',{x:L,y:T,width:R-L,height:B-T,fill:'none',stroke:'#b5b5b5','stroke-width':2.5},'plot-frame');
  add(g,'line',{x1:L,x2:R,y1:B,y2:B,stroke:'#777','stroke-width':3},'x-axis-line');
}
exprPlot({name:'plot-cyanidin-glucoside',L:108.6,R:606,T:3178,B:3592,cx0:244.6,cx1:471,tick0:3579.7,tick1:3212,half:56.5,ticks:e1Ticks,tickLabels:e1TickLabels,p:e1P,cVal:e1CtrlVal,cDen:e1CtrlDen,cBox:e1CtrlBox,tVal:e1TrtVal,tDen:e1TrtDen,tBox:e1TrtBox});
exprPlot({name:'plot-pelargonidin-glucoside',L:706.5,R:1212,T:3179,B:3591,cx0:844,cx1:1074.6,tick0:3570.5,tick1:3286.5,half:57,ticks:e2Ticks,tickLabels:e2TickLabels,p:e2P,cVal:e2CtrlVal,cDen:e2CtrlDen,cBox:e2CtrlBox,tVal:e2TrtVal,tDen:e2TrtDen,tBox:e2TrtBox});
exprPlot({name:'plot-cyanidin-rutinoside',L:1322,R:1812,T:3178,B:3589.5,cx0:1455,cx1:1679,tick0:3584,tick1:3274.5,half:56.3,ticks:e3Ticks,tickLabels:e3TickLabels,p:e3P,cVal:e3CtrlVal,cDen:e3CtrlDen,cBox:e3CtrlBox,tVal:e3TrtVal,tDen:e3TrtDen,tBox:e3TrtBox,bracketW:3.5});
exprPlot({name:'plot-pelargonidin-rutinoside',L:1931,R:2423.5,T:3178,B:3587.4,cx0:2065,cx1:2289,tick0:3510.6,tick1:3238.6,half:56.5,ticks:e4Ticks,tickLabels:e4TickLabels,p:e4P,cVal:e4CtrlVal,cDen:e4CtrlDen,cBox:e4CtrlBox,tVal:e4TrtVal,tDen:e4TrtDen,tBox:e4TrtBox,bracketW:3.5});
exprPlot({name:'plot-cyanidin-sophoroside',L:2537.3,R:3040.6,T:3178,B:3587.4,cx0:2675,cx1:2904,tick0:3552,tick1:3238.6,half:56.9,ticks:e5Ticks,tickLabels:e5TickLabels,p:e5P,cVal:e5CtrlVal,cDen:e5CtrlDen,cBox:e5CtrlBox,tVal:e5TrtVal,tDen:e5TrtDen,tBox:e5TrtBox,bracketW:3.5});

/* ---------- Molecular structures (schematic drawings) ---------- */
function molecule(name,m){
  const g=add(document.getElementById('panelE'),'g',{},name);
  const X=v=>m.ox+(v+(m.dx||0))*m.sx, Y=v=>m.oy+(v+(m.dy||0))*m.sy;
  const pl=pts=>pts.map(p=>X(p[0]).toFixed(1)+','+Y(p[1]).toFixed(1)).join(' ');
  m.bonds.forEach(b=>{
    add(g,'polyline',{points:pl(b),fill:'none',stroke:'#7a7a7a','stroke-width':2.2},'molecule-bond');
  });
  (m.dbl||[]).forEach(r=>{
    const c=r[0];
    r[1].forEach(e=>{
      const inner=[e[0],e[1]].map(p=>[p[0]+(c[0]-p[0])*.16,p[1]+(c[1]-p[1])*.16]);
      add(g,'polyline',{points:pl(inner),fill:'none',stroke:'#8a8a8a','stroke-width':2},'molecule-double-bond');
    });
  });
  (m.bold||[]).forEach(b=>{
    add(g,'polyline',{points:pl(b),fill:'none',stroke:'#111','stroke-width':4.5},'molecule-wedge-bond');
  });
  (m.red||[]).forEach(b=>{
    const mid=[(b[0][0]+b[1][0])/2,(b[0][1]+b[1][1])/2];
    add(g,'polyline',{points:pl([b[0],mid]),fill:'none',stroke:'#222','stroke-width':3.2},'molecule-wedge-bond');
    add(g,'polyline',{points:pl([mid,b[1]]),fill:'none',stroke:'#e83030','stroke-width':4},'molecule-wedge-bond');
  });
  m.atoms.forEach(a=>{
    label(g,a[0],X(a[1]),Y(a[2])+6,17,'molecule-atom',{anchor:'middle',weight:'normal',fill:a[0]==='H'?'#7f9f9f':'#f03030'});
  });
}
const mol1Bonds=[[[369,978],[418,1012],[418,1080],[369,1110],[319,1080],[319,1012],[369,978]],[[369,978],[369,920]],[[319,1080],[280,1105]],[[418,1080],[455,1105]],[[464,1120],[464,1178]],[[464,1178],[418,1208],[369,1178],[369,1110]],[[464,1178],[512,1208],[560,1178],[608,1208],[608,1275],[560,1305],[512,1275],[512,1208]],[[608,1275],[645,1298]],[[418,1208],[418,1262]],[[369,1302],[369,1370],[322,1400],[274,1370],[274,1302],[314,1278]],[[330,1278],[369,1302]],[[228,1272],[190,1298]]];
const mol1Bold=[[[274,1302],[228,1272]]];
const mol1Red=[[[369,1302],[408,1278]],[[322,1400],[322,1455]],[[369,1370],[405,1392]],[[274,1370],[236,1392]]];
const mol1Atoms=[['O',369,912],['H',339,892],['O',271,1110],['H',242,1090],['O+',468,1110],['O',654,1303],['H',683,1283],['O',416,1272],['O',322,1272],['O',180,1303],['H',150,1283],['O',416,1400],['H',416,1440],['O',322,1465],['H',292,1485],['O',226,1400],['H',226,1440]];
const mol1Dbl=[[[369,1045],[[[369,978],[319,1012]],[[319,1080],[369,1110]],[[418,1012],[418,1080]]]],[[418,1145],[[[369,1178],[418,1208]],[[464,1120],[464,1178]]]],[[560,1242],[[[512,1208],[512,1275]],[[560,1178],[608,1208]],[[608,1275],[560,1305]]]]];
molecule('molecule-cyanidin-glucoside',{ox:0,oy:3030,sx:.829,sy:.7047,bonds:mol1Bonds.concat([[[560,1305],[560,1360]]]),dbl:mol1Dbl,bold:mol1Bold,red:mol1Red,atoms:mol1Atoms.concat([['O',560,1368],['H',588,1388]])});
molecule('molecule-pelargonidin-glucoside',{ox:0,oy:3030,sx:.829,sy:.7047,dx:723,dy:-2,bonds:mol1Bonds,dbl:mol1Dbl,bold:mol1Bold,red:mol1Red,atoms:mol1Atoms});
molecule('molecule-cyanidin-rutinoside',{ox:1200,oy:3030,sx:1.198,sy:.7047,
 bonds:[[[222,987],[252,1018],[252,1075],[222,1103],[191,1075],[191,1018],[222,987]],[[252,1018],[275,997]],[[287,995],[309,1018],[309,1075],[281,1103],[252,1075]],[[309,1018],[338,990]],[[368,903],[397,932],[397,990],[368,1018],[338,990],[338,932],[368,903]],[[397,932],[418,908]],[[397,990],[418,1010]],[[191,1018],[168,994]],[[222,1103],[222,1154]],[[309,1075],[332,1096]],[[338,1110],[338,1160]],[[338,1160],[368,1188],[368,1245],[338,1273],[309,1245],[309,1195]],[[309,1180],[338,1160]],[[368,1188],[390,1166]],[[368,1245],[390,1266]],[[338,1273],[338,1322]],[[309,1245],[281,1273],[281,1323]],[[274,1336],[250,1358]],[[250,1358],[250,1416],[221,1443],[193,1416],[193,1358],[215,1335]],[[227,1335],[250,1358]],[[193,1358],[165,1330]],[[250,1416],[274,1438]],[[221,1443],[221,1492]],[[193,1416],[170,1438]]],
 dbl:[[[222,1045],[[[222,987],[191,1018]],[[191,1075],[222,1103]],[[252,1018],[252,1075]]]],[[281,1047],[[[281,1103],[309,1075]],[[287,995],[309,1018]]]],[[368,960],[[[338,932],[368,903]],[[397,932],[397,990]],[[368,1018],[338,990]]]]],
 atoms:[['O',425,902],['H',425,866],['O',425,1016],['H',443,1000],['O',162,987],['H',162,950],['O',222,1162],['H',203,1180],['O+',283,988],['O',338,1102],['O',309,1187],['O',396,1160],['H',396,1123],['O',396,1272],['H',414,1255],['O',338,1330],['H',356,1347],['O',280,1330],['O',221,1330],['O',280,1443],['H',298,1426],['O',221,1500],['H',203,1518],['O',163,1443],['H',145,1426]]});
molecule('molecule-pelargonidin-rutinoside',{ox:1200,oy:3030,sx:1.198,sy:.7047,
 bonds:[[[899,892],[929,921],[929,979],[899,1008],[869,979],[869,921],[899,892]],[[929,921],[952,897]],[[839,1010],[869,979]],[[839,1010],[839,1068],[808,1097],[778,1068],[778,1010],[800,985]],[[815,985],[839,1010]],[[778,1010],[748,979],[717,1010],[717,1068],[748,1097],[778,1068]],[[717,1010],[694,985]],[[748,1097],[748,1150]],[[839,1068],[862,1090]],[[899,1185],[899,1243],[868,1273],[839,1243],[839,1190]],[[839,1176],[868,1157],[899,1185]],[[809,1273],[809,1322]],[[802,1337],[779,1358]],[[779,1358],[779,1416],[749,1445],[719,1416],[719,1358],[742,1335]],[[754,1335],[779,1358]],[[719,1358],[690,1330]]],
 dbl:[[[899,950],[[[869,921],[869,979]],[[899,892],[929,921]],[[929,979],[899,1008]]]],[[808,1040],[[[839,1010],[839,1068]],[[808,1097],[778,1068]]]],[[748,1038],[[[748,979],[778,1010]],[[717,1068],[748,1097]]]]],
 bold:[[[868,1105],[868,1157]],[[839,1243],[809,1273]]],
 red:[[[899,1185],[923,1163]],[[899,1243],[923,1266]],[[868,1273],[868,1322]],[[779,1416],[802,1440]],[[749,1445],[749,1498]],[[719,1416],[696,1440]]],
 atoms:[['O',958,890],['H',958,855],['O',687,978],['O',808,979],['O',748,1158],['H',730,1175],['O',868,1097],['O',839,1183],['O',929,1157],['H',929,1118],['O',929,1273],['H',947,1255],['O',868,1330],['H',886,1348],['O',808,1330],['O',748,1330],['O',809,1448],['H',827,1430],['O',749,1507],['H',731,1525],['O',689,1448],['H',670,1430]]});
molecule('molecule-cyanidin-sophoroside',{ox:1200,oy:3030,sx:1.198,sy:.7047,
 bonds:[[[1386,933],[1416,963],[1416,1022],[1386,1050],[1356,1022],[1356,963],[1386,933]],[[1386,933],[1386,880]],[[1416,1022],[1440,1044]],[[1386,1050],[1386,1110],[1356,1140],[1327,1110],[1327,1062]],[[1335,1044],[1356,1022]],[[1327,1110],[1297,1082],[1267,1112],[1238,1082],[1238,1025],[1267,995],[1297,1025],[1297,1082]],[[1238,1025],[1213,999]],[[1267,995],[1267,943]],[[1356,1140],[1356,1190]],[[1327,1228],[1327,1288],[1297,1316],[1267,1288],[1267,1228],[1290,1205]],[[1302,1205],[1327,1228]],[[1238,1200],[1213,1222]],[[1327,1288],[1350,1310]],[[1362,1310],[1386,1288],[1386,1236]],[[1392,1222],[1416,1200],[1446,1228],[1446,1288],[1416,1316],[1386,1288]],[[1416,1200],[1416,1142],[1438,1118]]],
 dbl:[[[1386,992],[[[1386,933],[1416,963]],[[1416,1022],[1386,1050]],[[1356,963],[1356,1022]]]],[[1356,1080],[[[1386,1050],[1386,1110]],[[1356,1140],[1327,1110]]]],[[1267,1053],[[[1238,1025],[1238,1082]],[[1267,995],[1297,1025]],[[1297,1082],[1267,1112]]]]],
 bold:[[[1267,1228],[1238,1200]]],
 red:[[[1327,1228],[1350,1206]],[[1297,1316],[1297,1367]],[[1267,1288],[1243,1310]],[[1446,1228],[1469,1204]],[[1446,1288],[1469,1310]],[[1416,1316],[1416,1367]]],
 atoms:[['O',1386,872],['H',1404,855],['O',1446,1050],['H',1464,1035],['O+',1327,1052],['O',1207,993],['H',1188,1010],['O',1267,935],['H',1285,917],['O',1356,1198],['O',1296,1198],['O',1207,1228],['H',1188,1210],['O',1237,1316],['H',1237,1352],['O',1297,1375],['H',1279,1392],['O',1356,1316],['O',1386,1228],['O',1445,1112],['H',1463,1130],['O',1475,1198],['H',1493,1216],['O',1475,1316],['H',1475,1352],['O',1416,1375],['H',1434,1392]]});
</script>
</body>
</html>
